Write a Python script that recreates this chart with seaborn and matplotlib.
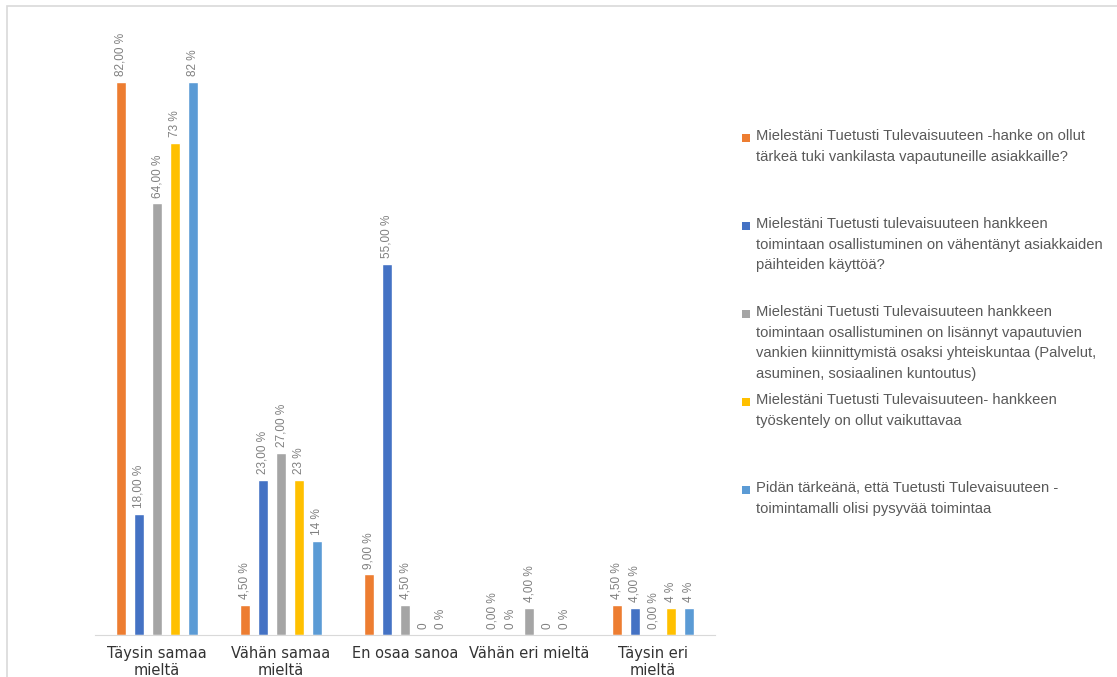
import matplotlib
matplotlib.use("Agg")
import matplotlib.pyplot as plt
import seaborn as sns
import pandas as pd
from matplotlib.patches import Rectangle

categories = ["Täysin samaa\nmieltä", "Vähän samaa\nmieltä", "En osaa sanoa",
              "Vähän eri mieltä", "Täysin eri\nmieltä"]

series_names = [
    "Mielestäni Tuetusti Tulevaisuuteen -hanke on ollut\ntärkeä tuki vankilasta vapautuneille asiakkaille?",
    "Mielestäni Tuetusti tulevaisuuteen hankkeen\ntoimintaan osallistuminen on vähentänyt asiakkaiden\npäihteiden käyttöä?",
    "Mielestäni Tuetusti Tulevaisuuteen hankkeen\ntoimintaan osallistuminen on lisännyt vapautuvien\nvankien kiinnittymistä osaksi yhteiskuntaa (Palvelut,\nasuminen, sosiaalinen kuntoutus)",
    "Mielestäni Tuetusti Tulevaisuuteen- hankkeen\ntyöskentely on ollut vaikuttavaa",
    "Pidän tärkeänä, että Tuetusti Tulevaisuuteen -\ntoimintamalli olisi pysyvää toimintaa",
]

s1 = [82.0, 4.5, 9.0, 0.0, 4.5]
s2 = [18.0, 23.0, 55.0, 0.0, 4.0]
s3 = [64.0, 27.0, 4.5, 4.0, 0.0]
s4 = [73.0, 23.0, 0.0, 0.0, 4.0]
s5 = [82.0, 14.0, 0.0, 0.0, 4.0]

l1 = ["82,00 %", "4,50 %", "9,00 %", "0,00 %", "4,50 %"]
l2 = ["18,00 %", "23,00 %", "55,00 %", "0 %", "4,00 %"]
l3 = ["64,00 %", "27,00 %", "4,50 %", "4,00 %", "0,00 %"]
l4 = ["73 %", "23 %", "0", "0", "4 %"]
l5 = ["82 %", "14 %", "0 %", "0 %", "4 %"]

colors = ["#ED7D31", "#4472C4", "#A5A5A5", "#FFC000", "#5B9BD5"]

values = [s1, s2, s3, s4, s5]
labels = [l1, l2, l3, l4, l5]

rows = []
for name, vals in zip(series_names, values):
    for c, v in zip(categories, vals):
        rows.append({"cat": c, "val": v, "series": name})
df = pd.DataFrame(rows)

sns.set_style("white")
plt.rcParams["font.family"] = ["DejaVu Sans"]

fig = plt.figure(figsize=(11.17, 6.77), dpi=100)
ax = fig.add_axes([95 / 1117, 42 / 677, 620 / 1117, 607 / 677])

sns.barplot(data=df, x="cat", y="val", hue="series", order=categories,
            hue_order=series_names, palette=colors, width=0.73, gap=0.45,
            legend=False, ax=ax, saturation=1, errorbar=None)

for cont, labs in zip(ax.containers, labels):
    ax.bar_label(cont, labels=labs, rotation=90, padding=4, fontsize=8.5,
                 color="#808080", family="Liberation Sans")

ax.set_ylim(0, 90)
ax.set_xlim(-0.5, 4.5)
ax.set_xlabel("")
ax.set_ylabel("")
ax.set_yticks([])
for sp in ["top", "right", "left"]:
    ax.spines[sp].set_visible(False)
ax.spines["bottom"].set_color("#d9d9d9")
ax.tick_params(axis="x", length=0, pad=8)
for t in ax.get_xticklabels():
    t.set_fontsize(10.5)
    t.set_color("#333333")
    t.set_linespacing(1.15)

# legend (manual, Excel-like equal spacing)
leg_tops = [137, 225, 313, 401, 489]
for name, col, yt in zip(series_names, colors, leg_tops):
    fig.patches.append(Rectangle((742 / 1117, 1 - (yt + 5) / 677), 8 / 1117, 8 / 677,
                                 transform=fig.transFigure, facecolor=col,
                                 edgecolor="none"))
    fig.text(756 / 1117, 1 - (yt - 8) / 677, name, fontsize=10.6, color="#595959",
             va="top", ha="left", linespacing=1.6, family="Liberation Sans")

# outer frame
fig.patches.append(Rectangle((7 / 1117, -0.2), 1.2, 1.2 - 6 / 677,
                             transform=fig.transFigure, facecolor="none",
                             edgecolor="#d9d9d9", lw=1.2))

fig.savefig("out.png", dpi=100)
